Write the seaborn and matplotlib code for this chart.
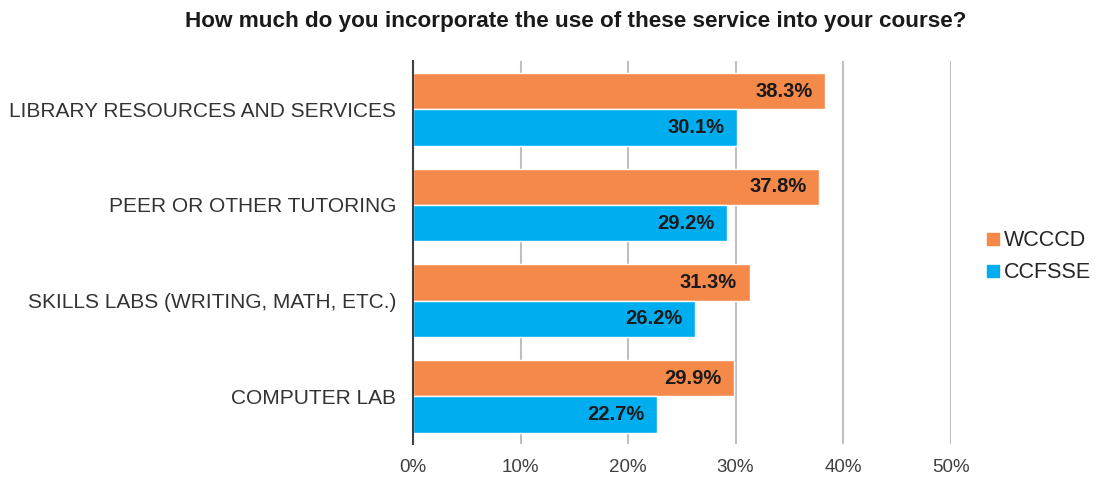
import matplotlib
matplotlib.use("Agg")
import matplotlib.pyplot as plt
import seaborn as sns
import pandas as pd
from matplotlib.lines import Line2D

categories = ["LIBRARY RESOURCES AND SERVICES", "PEER OR OTHER TUTORING",
              "SKILLS LABS (WRITING, MATH, ETC.)", "COMPUTER LAB"]
wcccd = [38.3, 37.8, 31.3, 29.9]
ccfsse = [30.1, 29.2, 26.2, 22.7]
series = ["WCCCD", "CCFSSE"]
colors = ["#F5894A", "#00AEEF"]
xticks = [0, 10, 20, 30, 40, 50]

df = pd.DataFrame({
    "cat": categories * 2,
    "val": wcccd + ccfsse,
    "series": [series[0]] * 4 + [series[1]] * 4,
})

sns.set_style("white")
plt.rcParams['font.family'] = ['Liberation Sans', 'DejaVu Sans']

fig = plt.figure(figsize=(10.97, 4.8), dpi=100)
ax = fig.add_axes([0.3765, 0.075, 0.49, 0.797])
sns.barplot(data=df, y="cat", x="val", hue="series", order=categories,
            hue_order=series, palette=colors, orient="h", width=0.76,
            saturation=1, ax=ax, legend=False)

for cont in ax.containers:
    texts = ax.bar_label(cont, labels=[f"{v:.1f}%" for v in cont.datavalues],
                         padding=-9, label_type="edge", fontsize=14.5,
                         fontweight="bold", color="#1a1a1a")
    for t in texts:
        t.set_ha("right")

ax.set_xlim(0, 50)
ax.set_ylim(3.5, -0.5)
ax.set_xticks(xticks)
ax.set_xticklabels([f"{x}%" for x in xticks], fontsize=13.5, color="#404040")
ax.tick_params(axis="y", labelsize=15, colors="#333333", length=0, pad=12)
ax.tick_params(axis="x", length=0, pad=11)
ax.set_xlabel("")
ax.set_ylabel("")
ax.xaxis.grid(True, color="#BFBFBF", linewidth=1.5)
ax.set_axisbelow(True)
for s in ["top", "right", "bottom"]:
    ax.spines[s].set_visible(False)
ax.spines["left"].set_color("#404040")
ax.spines["left"].set_linewidth(1.5)

handles = [Line2D([0], [0], marker="s", linestyle="", markersize=8,
                  markerfacecolor=c, markeredgecolor=c) for c in colors]
fig.legend(handles, series, loc="center left", bbox_to_anchor=(0.8805, 0.465),
           frameon=False, fontsize=15.5, handletextpad=0.15, labelspacing=0.5,
           handlelength=0.7)

fig.text(0.525, 0.955, "How much do you incorporate the use of these service into your course?",
         ha="center", va="center", fontsize=16.2, fontweight="bold", color="#1a1a1a")

fig.savefig("out.png", dpi=100)
